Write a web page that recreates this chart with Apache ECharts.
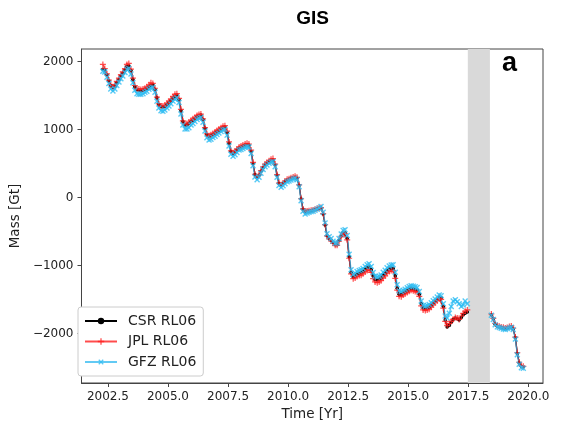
<!DOCTYPE html>
<html>
<head>
<meta charset="utf-8">
<script src="https://cdn.jsdelivr.net/npm/echarts@6/dist/echarts.min.js"></script>
<style>
html,body{margin:0;padding:0;background:#fff;}
#chart{width:580px;height:427px;}
</style>
</head>
<body>
<div id="chart"></div>
<script>
// Decimal-year sample times (monthly); 2017.95 marks the GRACE / GRACE-FO gap
const time = [
 2002.29,2002.37,2002.46,2002.54,2002.62,2002.71,2002.79,2002.87,2002.96,
 2003.04,2003.12,2003.21,2003.29,2003.37,2003.46,2003.54,2003.62,2003.71,2003.79,2003.87,2003.96,
 2004.04,2004.12,2004.21,2004.29,2004.37,2004.46,2004.54,2004.62,2004.71,2004.79,2004.87,2004.96,
 2005.04,2005.12,2005.21,2005.29,2005.37,2005.46,2005.54,2005.62,2005.71,2005.79,2005.87,2005.96,
 2006.04,2006.12,2006.21,2006.29,2006.37,2006.46,2006.54,2006.62,2006.71,2006.79,2006.87,2006.96,
 2007.04,2007.12,2007.21,2007.29,2007.37,2007.46,2007.54,2007.62,2007.71,2007.79,2007.87,2007.96,
 2008.04,2008.12,2008.21,2008.29,2008.37,2008.46,2008.54,2008.62,2008.71,2008.79,2008.87,2008.96,
 2009.04,2009.12,2009.21,2009.29,2009.37,2009.46,2009.54,2009.62,2009.71,2009.79,2009.87,2009.96,
 2010.04,2010.12,2010.21,2010.29,2010.37,2010.46,2010.54,2010.62,2010.71,2010.79,2010.87,2010.96,
 2011.04,2011.12,2011.21,2011.29,2011.37,2011.46,2011.54,2011.62,2011.71,2011.79,2011.87,2011.96,
 2012.04,2012.12,2012.21,2012.29,2012.37,2012.46,2012.54,2012.62,2012.71,2012.79,2012.87,2012.96,
 2013.04,2013.12,2013.21,2013.29,2013.37,2013.46,2013.54,2013.62,2013.71,2013.79,2013.87,2013.96,
 2014.04,2014.12,2014.21,2014.29,2014.37,2014.46,2014.54,2014.62,2014.71,2014.79,2014.87,2014.96,
 2015.04,2015.12,2015.21,2015.29,2015.37,2015.46,2015.54,2015.62,2015.71,2015.79,2015.87,2015.96,
 2016.04,2016.12,2016.21,2016.29,2016.37,2016.46,2016.54,2016.62,2016.71,2016.79,2016.87,2016.96,
 2017.04,2017.12,2017.21,2017.29,2017.37,2017.46,
 2017.95,
 2018.46,2018.54,2018.62,2018.71,2018.79,2018.87,2018.96,
 2019.04,2019.12,2019.21,2019.29,2019.37,2019.46,2019.54,2019.62,2019.71,2019.79
];

const csr = [
 1890,1880,1810,1720,1650,1620,1640,1690,1740,
 1790,1830,1880,1930,1940,1870,1740,1630,1590,1580,1570,1580,
 1590,1600,1630,1650,1660,1590,1470,1370,1340,1330,1340,1370,
 1400,1430,1460,1490,1510,1440,1280,1120,1070,1070,1090,1120,
 1140,1160,1190,1205,1215,1150,1020,930,900,910,930,950,
 970,990,1010,1030,1040,960,800,680,650,670,700,730,
 740,755,770,780,770,680,500,340,300,330,390,440,
 480,505,530,550,555,480,330,210,185,205,235,260,
 270,285,295,300,285,180,-20,-170,-210,-200,-195,-190,
 -185,-175,-165,-155,-150,-240,-400,-560,-600,-625,-660,-690,
 -690,-630,-560,-510,-515,-600,-870,-1100,-1165,-1150,-1125,-1110,
 -1100,-1080,-1050,-1030,-1020,-1060,-1150,-1200,-1210,-1200,-1180,-1140,
 -1110,-1075,-1050,-1035,-1040,-1150,-1330,-1420,-1425,-1400,-1385,-1365,
 -1345,-1330,-1340,-1350,-1360,-1420,-1560,-1620,-1630,-1620,-1610,-1580,
 -1550,-1520,-1490,-1460,-1470,-1600,-1800,-1900,-1880,-1830,-1790,-1770,
 -1780,-1800,-1760,-1720,-1700,-1680,
 null,
 -1720,-1780,-1860,-1890,-1900,-1910,-1920,
 -1930,-1920,-1910,-1900,-1930,-2060,-2290,-2430,-2480,-2490
];

const jpl = [
 1960,1900,1820,1730,1660,1630,1660,1710,1760,
 1810,1850,1900,1960,1975,1890,1760,1650,1600,1600,1590,1600,
 1610,1630,1660,1690,1680,1610,1480,1380,1350,1350,1360,1390,
 1420,1450,1490,1520,1530,1460,1300,1130,1080,1090,1110,1140,
 1160,1180,1210,1225,1230,1160,1030,940,910,925,945,965,
 990,1010,1030,1050,1060,980,820,690,660,685,715,745,
 760,775,790,800,790,700,520,345,305,340,400,455,
 495,520,545,565,575,495,340,215,190,210,245,270,
 280,295,305,315,300,190,-15,-165,-205,-195,-190,-185,
 -180,-170,-160,-150,-145,-235,-395,-560,-605,-630,-670,-700,
 -700,-640,-575,-525,-530,-620,-890,-1120,-1190,-1180,-1160,-1145,
 -1140,-1120,-1090,-1070,-1060,-1100,-1190,-1240,-1250,-1240,-1220,-1180,
 -1150,-1110,-1085,-1070,-1075,-1185,-1360,-1450,-1455,-1430,-1415,-1395,
 -1375,-1360,-1370,-1380,-1390,-1450,-1590,-1650,-1660,-1650,-1640,-1610,
 -1575,-1545,-1515,-1485,-1495,-1625,-1820,-1880,-1850,-1820,-1790,-1760,
 -1770,-1790,-1740,-1700,-1670,-1650,
 null,
 -1710,-1775,-1850,-1880,-1890,-1900,-1905,
 -1915,-1910,-1895,-1885,-1920,-2050,-2280,-2420,-2470,-2480
];

const gfz = [
 1860,1850,1770,1680,1600,1570,1600,1650,1700,
 1750,1790,1840,1890,1900,1820,1690,1580,1530,1520,1520,1530,
 1550,1565,1595,1615,1620,1550,1420,1320,1280,1270,1290,1320,
 1350,1380,1420,1450,1470,1400,1230,1070,1010,1010,1030,1070,
 1090,1120,1150,1170,1180,1110,980,880,850,860,885,905,
 930,950,975,995,1005,920,760,640,610,630,665,700,
 710,725,740,750,745,650,470,305,265,300,360,415,
 455,480,505,525,530,455,300,180,155,175,205,235,
 245,260,275,285,265,160,-45,-200,-240,-225,-215,-205,
 -200,-185,-170,-150,-130,-215,-370,-530,-575,-600,-640,-670,
 -665,-600,-535,-480,-470,-555,-830,-1060,-1130,-1110,-1085,-1070,
 -1060,-1040,-1010,-985,-970,-1010,-1100,-1155,-1165,-1155,-1135,-1095,
 -1065,-1030,-1005,-990,-985,-1095,-1280,-1370,-1380,-1360,-1345,-1325,
 -1305,-1295,-1300,-1310,-1320,-1380,-1520,-1585,-1595,-1585,-1570,-1545,
 -1515,-1490,-1460,-1430,-1440,-1560,-1740,-1770,-1700,-1600,-1520,-1500,
 -1530,-1560,-1600,-1580,-1520,-1560,
 null,
 -1730,-1790,-1870,-1900,-1910,-1920,-1930,
 -1940,-1925,-1915,-1905,-1940,-2080,-2310,-2450,-2500,-2510
];

const seriesNames = ['CSR RL06', 'JPL RL06', 'GFZ RL06'];
const xTicks = [2002.5, 2005.0, 2007.5, 2010.0, 2012.5, 2015.0, 2017.5, 2020.0];
const yTicks = [-2000, -1000, 0, 1000, 2000];
const gapBand = [2017.48, 2018.40];

function pairs(vals) {
  return time.map((t, i) => [t, vals[i] === null ? '-' : vals[i]]);
}

const plusPath = 'path://M4,0H6V4H10V6H6V10H4V6H0V4H4Z';
const fontTick = {fontFamily: 'DejaVu Sans', fontSize: 12, color: '#222'};

const chart = echarts.init(document.getElementById('chart'), null, {renderer: 'canvas'});
chart.setOption({
  animation: false,
  backgroundColor: '#fff',
  title: {
    text: 'GIS',
    left: 307.5, textAlign: 'center', top: 4,
    textStyle: {fontFamily: 'Liberation Sans', fontWeight: 'bold', fontSize: 19, color: '#000'}
  },
  graphic: [{
    type: 'text', left: 502, top: 50,
    style: {text: 'a', font: 'bold 27px "Liberation Sans"', fill: '#000'}
  }],
  grid: {
    left: 72, right: 37, top: 49, bottom: 44,
    show: true, borderColor: '#444', borderWidth: 1
  },
  legend: {
    data: seriesNames,
    orient: 'vertical',
    left: 78, top: 307,
    padding: [6, 7, 6, 6],
    itemGap: 4.5, itemWidth: 32, itemHeight: 8,
    backgroundColor: '#fff',
    borderColor: '#ccc', borderWidth: 1, borderRadius: 3,
    textStyle: {fontFamily: 'DejaVu Sans', fontSize: 14, lineHeight: 16, color: '#222', padding: [0, 0, 0, 6]}
  },
  xAxis: {
    type: 'value', min: 2001.4, max: 2020.61,
    name: 'Time [Yr]', nameLocation: 'middle', nameGap: 22,
    nameTextStyle: {fontFamily: 'DejaVu Sans', fontSize: 13.5, color: '#222'},
    axisLine: {show: true, onZero: false, lineStyle: {color: '#444', width: 1}},
    axisTick: {show: true, length: 4, customValues: xTicks, lineStyle: {color: '#444'}},
    axisLabel: Object.assign({margin: 8, customValues: xTicks,
      formatter: v => v.toFixed(1)}, fontTick),
    splitLine: {show: false}
  },
  yAxis: {
    type: 'value', min: -2725, max: 2187,
    name: 'Mass [Gt]', nameLocation: 'middle', nameGap: 51,
    nameTextStyle: {fontFamily: 'DejaVu Sans', fontSize: 13.5, color: '#222'},
    axisLine: {show: true, onZero: false, lineStyle: {color: '#444', width: 1}},
    axisTick: {show: true, length: 4, customValues: yTicks, lineStyle: {color: '#444'}},
    axisLabel: Object.assign({margin: 8, customValues: yTicks,
      formatter: v => String(v).replace('-', '\u2212')}, fontTick),
    splitLine: {show: false}
  },
  series: [
    {
      name: seriesNames[0], type: 'line', data: pairs(csr),
      connectNulls: false,
      symbol: 'circle', symbolSize: 3.5,
      lineStyle: {color: '#000', width: 1.3},
      itemStyle: {color: '#000'},
      markArea: {
        silent: true,
        itemStyle: {color: '#d9d9d9', opacity: 1},
        data: [[{xAxis: gapBand[0]}, {xAxis: gapBand[1]}]]
      }
    },
    {
      name: seriesNames[1], type: 'line', data: pairs(jpl),
      connectNulls: false,
      symbol: plusPath, symbolSize: 6,
      lineStyle: {color: '#ff0000', width: 1.3, opacity: 0.7},
      itemStyle: {color: '#ff2020', opacity: 0.8}
    },
    {
      name: seriesNames[2], type: 'line', data: pairs(gfz),
      connectNulls: false,
      symbol: plusPath, symbolSize: 7, symbolRotate: 45,
      lineStyle: {color: '#1fb4f0', width: 1.4, opacity: 0.7},
      itemStyle: {color: '#30bdf2', opacity: 0.8}
    }
  ]
});
</script>
</body>
</html>
